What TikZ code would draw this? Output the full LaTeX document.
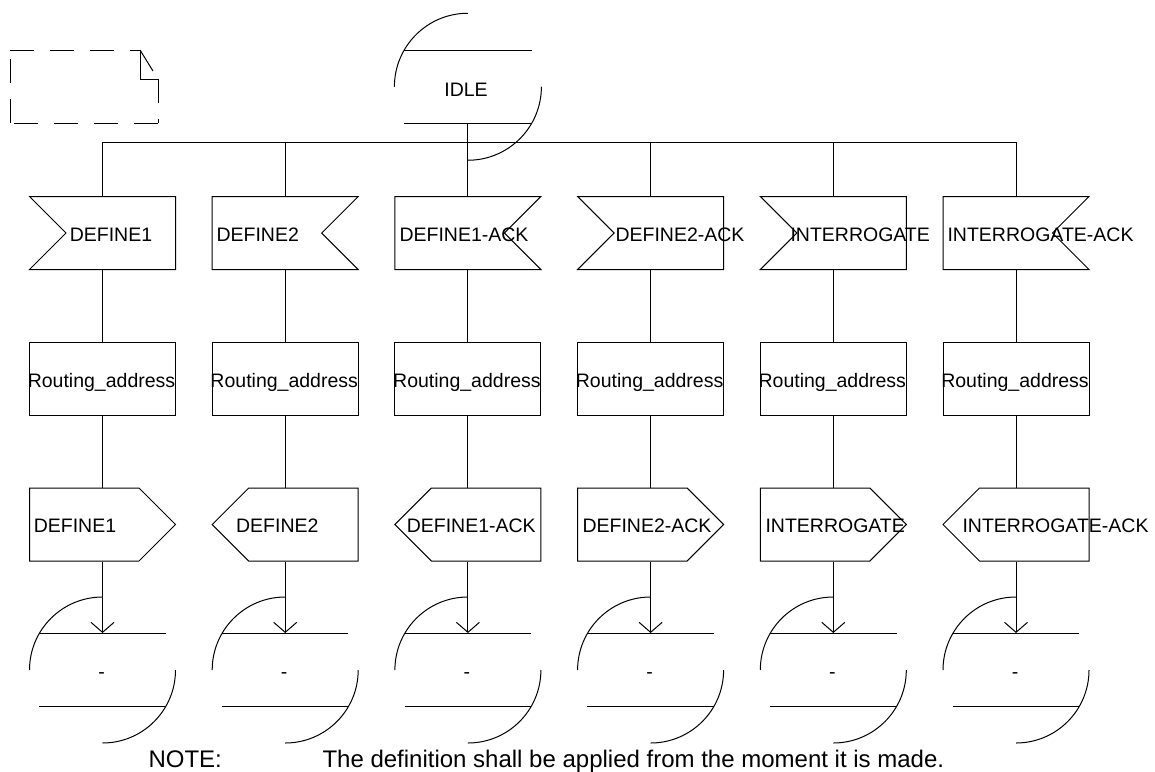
\documentclass[tikz,border=0pt]{standalone}
\usepackage{fontspec}
\setmainfont{Liberation Sans}
\usetikzlibrary{arrows.meta}

% SDL state symbol: circle centre (#1,#2), radius #3; two quarter arcs and two chords
\newcommand{\sdlstatesym}[3]{%
  \draw ({#1-#3},#2) arc[start angle=180,end angle=270,radius=#3];
  \draw ({#1+#3},#2) arc[start angle=0,end angle=90,radius=#3];
  \draw ({#1-0.866*#3},{#2-0.5*#3}) -- ({#1+0.866*#3},{#2-0.5*#3});
  \draw ({#1-0.866*#3},{#2+0.5*#3}) -- ({#1+0.866*#3},{#2+0.5*#3});
}

\begin{document}
\begin{tikzpicture}[x=1pt,y=-1pt,line width=1pt,
  lbl/.style={font=\fontsize{19.5}{22}\selectfont,inner sep=0pt},
  frame/.style={draw=none,minimum width=146pt,minimum height=73pt,inner sep=0pt},
  taskbox/.style={draw,line width=1pt,minimum width=146pt,minimum height=73pt,inner sep=0pt},
  chordbox/.style={draw=none,minimum width=126pt,minimum height=73pt,inner sep=0pt},
  flow/.style={-{Straight Barb[length=10pt,width=23pt]}},
  dashside/.style={dash pattern=on 24pt off 16pt},
  note/.style={font=\fontsize{24}{28}\selectfont,inner sep=0pt,anchor=base west}]
\useasboundingbox (0,0) rectangle (1155,771);
\fill[white] (0,0) rectangle (1155,771);

% text extension symbol (dashed sides, folded corner)
\draw[dashside] (158,123) -- (10,123);
\draw[dashside] (10,123) -- (10,50);
\draw[dashside] (10,50) -- (140,50);
\draw[dashside] (158,79) -- (158,123);
\draw (140,50) -- (140,79) -- (158,79);
\draw (140,50) -- (153,71);

% start state
\node[chordbox,minimum width=127pt] (idle) at (467.9,86.75) {};
\sdlstatesym{467.9}{86.75}{73.5}
\node[lbl,anchor=base] (idle-t) at (466,96) {IDLE};

% branches
\foreach \i/\cx/\nside/\inx/\intext/\pside/\outx/\outtext in {
  1/102.5/-1/69.3/DEFINE1/1/33.3/DEFINE1,
  2/285.2/1/216/DEFINE2/-1/235.6/DEFINE2,
  3/467.9/1/399/DEFINE1-ACK/-1/406.3/DEFINE1-ACK,
  4/650.6/-1/615/DEFINE2-ACK/1/582/DEFINE2-ACK,
  5/833.3/-1/790/INTERROGATE/1/765/INTERROGATE,
  6/1016/1/947/INTERROGATE-ACK/-1/962/INTERROGATE-ACK}
{
  \coordinate (bus\i) at (\cx,142);
  % input
  \node[frame] (in\i) at (\cx,233) {};
  \draw ({\cx+(\nside)*73},196.5) -- ({\cx+(\nside)*36.5},233) -- ({\cx+(\nside)*73},269.5)
        -- ({\cx-(\nside)*73},269.5) -- ({\cx-(\nside)*73},196.5) -- cycle;
  \node[lbl,anchor=base west] (in\i-t) at (\inx,241.5) {\intext};
  % task
  \node[taskbox] (ra\i) at (\cx,378.75) {};
  \node[lbl,anchor=base] (ra\i-t) at ({\cx-1},387) {Routing\_address};
  % output
  \node[frame] (out\i) at (\cx,524.5) {};
  \draw ({\cx+(\pside)*36.5},488) -- ({\cx+(\pside)*73},524.5) -- ({\cx+(\pside)*36.5},561)
        -- ({\cx-(\pside)*73},561) -- ({\cx-(\pside)*73},488) -- cycle;
  \node[lbl,anchor=base west] (out\i-t) at (\outx,532.5) {\outtext};
  % next state
  \node[chordbox] (st\i) at (\cx,670) {};
  \sdlstatesym{\cx}{670}{73}
  \node[lbl,anchor=base] (st\i-t) at ({\cx-1},678) {-};
  % flow lines
  \draw (in\i) -- (ra\i);
  \draw (ra\i) -- (out\i);
  \draw[flow] (out\i) -- (st\i);
}

\draw (bus1) -- (bus6);
\draw (idle.south) -- (in3.north);
\foreach \i in {1,2,4,5,6} \draw (bus\i) -- (in\i.north);

\node[note] (note-a) at (148,767) {NOTE:};
\node[note] (note-b) at (322,767) {The definition shall be applied from the moment it is made.};
\end{tikzpicture}
\end{document}
